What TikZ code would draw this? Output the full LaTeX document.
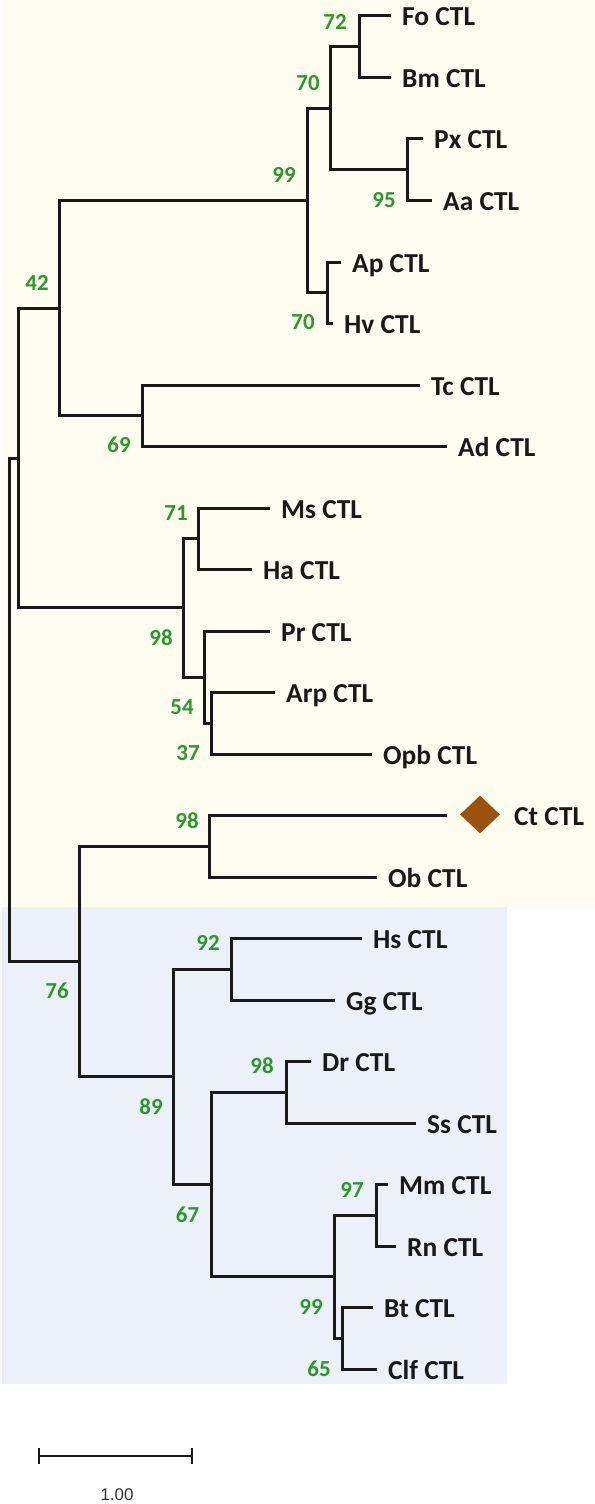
\documentclass[tikz,border=0pt]{standalone}
\usepackage{fontspec}
\setmainfont{Carlito}
\newfontfamily\scalefont{Liberation Sans}
\usetikzlibrary{shapes.geometric}
\definecolor{bgyellow}{RGB}{254,251,239}
\definecolor{bgblue}{RGB}{235,240,249}
\definecolor{bootgreen}{RGB}{46,150,46}
\definecolor{markbrown}{RGB}{156,81,17}
\begin{document}
\begin{tikzpicture}[x=1bp,y=-1bp,
  branch/.style={line width=3bp, black!90, line join=miter},
  leaftext/.style={anchor=base west, inner sep=0pt, yshift=-10bp,
    font=\fontsize{27.5}{27.5}\selectfont\bfseries, text=black!90},
  leaf/.style={leaftext, xshift=11bp},
  boot/.style={font=\fontsize{23}{23}\selectfont\bfseries, text=bootgreen, inner sep=0pt}]
\useasboundingbox (0,0) rectangle (595,1504);
% backgrounds
\fill[bgyellow] (2,0) rectangle (595,907);
\fill[bgblue] (2,907) rectangle (507,1384);
% leaves
\coordinate (Fo) at (391,16);
\coordinate (Bm) at (391,77.5);
\coordinate (Px) at (423,139);
\coordinate (Aa) at (432,200.5);
\coordinate (Ap) at (341,262);
\coordinate (Hv) at (333,323.5);
\coordinate (Tc) at (420,385);
\coordinate (Ad) at (447,446.5);
\coordinate (Ms) at (270,508);
\coordinate (Ha) at (252,569.5);
\coordinate (Pr) at (270,631);
\coordinate (Arp) at (275,692.5);
\coordinate (Opb) at (372,754);
\coordinate (Ct) at (447,815.5);
\coordinate (Ob) at (377,877);
\coordinate (Hs) at (362,938.5);
\coordinate (Gg) at (335,1000);
\coordinate (Dr) at (311,1061.5);
\coordinate (Ss) at (416,1123);
\coordinate (Mm) at (388,1184.5);
\coordinate (Rn) at (396,1246);
\coordinate (Bt) at (373,1307.5);
\coordinate (Clf) at (377,1369);
% internal nodes
\coordinate (n72) at (359,46.75);
\coordinate (n95) at (407,169.75);
\coordinate (n70a) at (330,108.25);
\coordinate (n70b) at (327,292.75);
\coordinate (n99a) at (307,200.5);
\coordinate (n69) at (142,415.75);
\coordinate (n42) at (59,308.1);
\coordinate (n71) at (198,538.75);
\coordinate (n37) at (211,723.25);
\coordinate (n54) at (204,677.1);
\coordinate (n98a) at (183,607.9);
\coordinate (nX) at (18,458);
\coordinate (n98b) at (209,846.25);
\coordinate (n92) at (231,969.25);
\coordinate (n98c) at (286,1092.25);
\coordinate (n97) at (376,1215.25);
\coordinate (n65) at (342,1338.25);
\coordinate (n99b) at (334,1276.75);
\coordinate (n67) at (211,1184.5);
\coordinate (n89) at (173,1076.9);
\coordinate (n76) at (79,961.6);
\coordinate (root) at (9,709.8);
% branches
\draw[branch] (n72) |- (Fo);
\draw[branch] (n72) |- (Bm);
\draw[branch] (n95) |- (Px);
\draw[branch] (n95) |- (Aa);
\draw[branch] (n70a) |- (n72);
\draw[branch] (n70a) |- (n95);
\draw[branch] (n70b) |- (Ap);
\draw[branch] (n70b) |- (Hv);
\draw[branch] (n99a) |- (n70a);
\draw[branch] (n99a) |- (n70b);
\draw[branch] (n69) |- (Tc);
\draw[branch] (n69) |- (Ad);
\draw[branch] (n42) |- (n99a);
\draw[branch] (n42) |- (n69);
\draw[branch] (n71) |- (Ms);
\draw[branch] (n71) |- (Ha);
\draw[branch] (n37) |- (Arp);
\draw[branch] (n37) |- (Opb);
\draw[branch] (n54) |- (Pr);
\draw[branch] (n54) |- (n37);
\draw[branch] (n98a) |- (n71);
\draw[branch] (n98a) |- (n54);
\draw[branch] (nX) |- (n42);
\draw[branch] (nX) |- (n98a);
\draw[branch] (n98b) |- (Ct);
\draw[branch] (n98b) |- (Ob);
\draw[branch] (n92) |- (Hs);
\draw[branch] (n92) |- (Gg);
\draw[branch] (n98c) |- (Dr);
\draw[branch] (n98c) |- (Ss);
\draw[branch] (n97) |- (Mm);
\draw[branch] (n97) |- (Rn);
\draw[branch] (n65) |- (Bt);
\draw[branch] (n65) |- (Clf);
\draw[branch] (n99b) |- (n97);
\draw[branch] (n99b) |- (n65);
\draw[branch] (n67) |- (n98c);
\draw[branch] (n67) |- (n99b);
\draw[branch] (n89) |- (n92);
\draw[branch] (n89) |- (n67);
\draw[branch] (n76) |- (n98b);
\draw[branch] (n76) |- (n89);
\draw[branch] (root) |- (nX);
\draw[branch] (root) |- (n76);
% leaf labels
\node[leaf] (tFo) at (Fo) {Fo CTL};
\node[leaf] (tBm) at (Bm) {Bm CTL};
\node[leaf] (tPx) at (Px) {Px CTL};
\node[leaf] (tAa) at (Aa) {Aa CTL};
\node[leaf] (tAp) at (Ap) {Ap CTL};
\node[leaf] (tHv) at (Hv) {Hv CTL};
\node[leaf] (tTc) at (Tc) {Tc CTL};
\node[leaf] (tAd) at (Ad) {Ad CTL};
\node[leaf] (tMs) at (Ms) {Ms CTL};
\node[leaf] (tHa) at (Ha) {Ha CTL};
\node[leaf] (tPr) at (Pr) {Pr CTL};
\node[leaf] (tArp) at (Arp) {Arp CTL};
\node[leaf] (tOpb) at (Opb) {Opb CTL};
\node[diamond, fill=markbrown, minimum width=40bp, minimum height=38bp, inner sep=0pt] (mk) at (480,814.5) {};
\node[leaftext] (tCt) at (514,815.5) {Ct CTL};
\node[leaf] (tOb) at (Ob) {Ob CTL};
\node[leaf] (tHs) at (Hs) {Hs CTL};
\node[leaf] (tGg) at (Gg) {Gg CTL};
\node[leaf] (tDr) at (Dr) {Dr CTL};
\node[leaf] (tSs) at (Ss) {Ss CTL};
\node[leaf] (tMm) at (Mm) {Mm CTL};
\node[leaf] (tRn) at (Rn) {Rn CTL};
\node[leaf] (tBt) at (Bt) {Bt CTL};
\node[leaf] (tClf) at (Clf) {Clf CTL};
% bootstrap values
\node[boot] (b72) at (335,22) {72};
\node[boot] (b70a) at (308,83) {70};
\node[boot] (b99a) at (284,175) {99};
\node[boot] (b95) at (384,200) {95};
\node[boot] (b70b) at (303,322) {70};
\node[boot] (b42) at (37,283) {42};
\node[boot] (b69) at (119,445) {69};
\node[boot] (b71) at (176,513) {71};
\node[boot] (b98a) at (161,638) {98};
\node[boot] (b54) at (182,707) {54};
\node[boot] (b37) at (188,753) {37};
\node[boot] (b98b) at (187,821) {98};
\node[boot] (b76) at (57,991) {76};
\node[boot] (b92) at (208,943) {92};
\node[boot] (b89) at (151,1107) {89};
\node[boot] (b98c) at (262,1066) {98};
\node[boot] (b67) at (187.5,1215) {67};
\node[boot] (b97) at (352,1190) {97};
\node[boot] (b99b) at (311,1307) {99};
\node[boot] (b65) at (319,1369) {65};
% scale bar
\coordinate (sbL) at (39,1456);
\coordinate (sbR) at (192,1456);
\draw[line width=2.8bp, black!90] (sbL) -- (sbR);
\draw[line width=2.8bp, black!90] ([yshift=8bp]sbL) -- ([yshift=-8bp]sbL);
\draw[line width=2.8bp, black!90] ([yshift=8bp]sbR) -- ([yshift=-8bp]sbR);
\node[font=\scalefont\fontsize{17}{17}\selectfont, text=black!80, inner sep=0pt] (sblab) at (117,1495) {1.00};
\end{tikzpicture}
\end{document}
